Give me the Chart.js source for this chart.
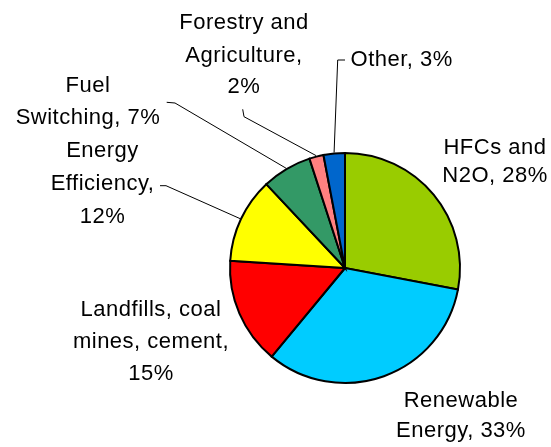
<!DOCTYPE html>
<html>
<head>
<meta charset="utf-8">
<script src="https://cdn.jsdelivr.net/npm/chart.js@4"></script>
<style>
  html, body { margin: 0; padding: 0; background: #fff; }
  #wrap { width: 551px; height: 447px; }
</style>
</head>
<body>
<div id="wrap"><canvas id="c" width="551" height="447"></canvas></div>
<script>
// ---- data ----
const categories = ['HFCs and N2O', 'Renewable Energy', 'Landfills, coal mines, cement', 'Energy Efficiency', 'Fuel Switching', 'Forestry and Agriculture', 'Other'];
const values = [28, 33, 15, 12, 7, 2, 3];
const colors = ['#99CC00', '#00CCFF', '#FF0000', '#FFFF00', '#339966', '#FF8080', '#0066CC'];

// ---- label layout (words per line, text centre, baselines, leader polyline) ----
const labelWordsPerLine = [[2, 2], [1, 2], [2, 2, 1], [1, 1, 1], [1, 2], [2, 1, 1], [2]];
const labelCenterX = [495, 461, 151, 102.5, 88, 244, 401.7];
const labelBaselines = [[154, 182], [407, 437], [315.7, 348.3, 380], [156.7, 189.5, 223], [92.3, 124.3], [29, 61.7, 93.3], [65.5]];
const leaderPoints = [null, null, null, [[166, 185.7], [160, 185.7]], [[175, 103], [166.7, 102.3]], [[244, 116.7], [242.7, 109.3]], [[337.7, 60], [345, 60]]];

function labelLines(i) {
  const words = (categories[i] + ', ' + values[i] + '%').split(' ');
  const out = [];
  let k = 0;
  for (const n of labelWordsPerLine[i]) { out.push(words.slice(k, k + n).join(' ')); k += n; }
  return out;
}

const labelPlugin = {
  id: 'pieLabels',
  afterDatasetsDraw(chart) {
    const ctx = chart.ctx;
    const meta = chart.getDatasetMeta(0);
    ctx.save();
    // leader lines
    ctx.strokeStyle = '#000';
    ctx.lineWidth = 1;
    meta.data.forEach((arc, i) => {
      const pts = leaderPoints[i];
      if (!pts) return;
      const p = arc.getProps(['x', 'y', 'startAngle', 'endAngle', 'outerRadius'], true);
      const mid = (p.startAngle + p.endAngle) / 2;
      const sx = p.x + Math.cos(mid) * (p.outerRadius + 1);
      const sy = p.y + Math.sin(mid) * (p.outerRadius + 1);
      ctx.beginPath();
      ctx.moveTo(sx, sy);
      pts.forEach(q => ctx.lineTo(q[0], q[1]));
      ctx.stroke();
    });
    // texts
    ctx.fillStyle = '#000';
    ctx.font = '22px "Liberation Sans", Arial, sans-serif';
    try { ctx.letterSpacing = '0.5px'; } catch (e) {}
    ctx.textAlign = 'center';
    ctx.textBaseline = 'alphabetic';
    meta.data.forEach((arc, i) => {
      const lines = labelLines(i);
      lines.forEach((t, j) => ctx.fillText(t, labelCenterX[i], labelBaselines[i][j]));
    });
    ctx.restore();
  }
};

new Chart(document.getElementById('c'), {
  type: 'pie',
  data: {
    labels: categories,
    datasets: [{
      data: values,
      backgroundColor: colors,
      borderColor: '#000',
      borderWidth: 2,
      borderJoinStyle: 'miter'
    }]
  },
  options: {
    responsive: false,
    animation: false,
    radius: 115,
    layout: { padding: { left: 139, right: 0, top: 89, bottom: 0 } },
    plugins: { legend: { display: false }, tooltip: { enabled: false } }
  },
  plugins: [labelPlugin]
});
</script>
</body>
</html>
